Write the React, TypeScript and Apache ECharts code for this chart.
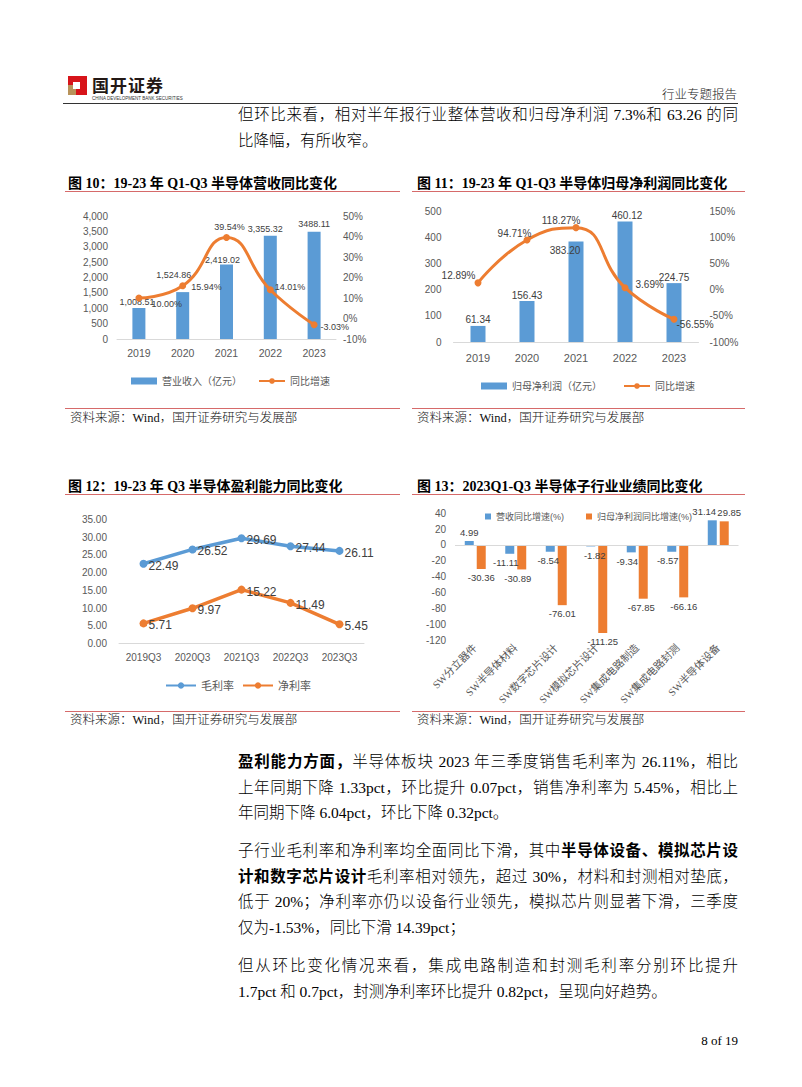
import React, { useEffect, useRef } from "react";
import * as echarts from "echarts";

// ---------- data ----------
const years = ["2019", "2020", "2021", "2022", "2023"];
const revenue = [1008.51, 1524.86, 2419.02, 3355.32, 3488.11];
const revenueLabels = ["1,008.51", "1,524.86", "2,419.02", "3,355.32", "3488.11"];
const revenueYoy = [10.0, 15.94, 39.54, 14.01, -3.03];
const profit = [61.34, 156.43, 383.2, 460.12, 224.75];
const profitYoy = [12.89, 94.71, 118.27, 3.69, -56.55];
const quarters = ["2019Q3", "2020Q3", "2021Q3", "2022Q3", "2023Q3"];
const grossMargin = [22.49, 26.52, 29.69, 27.44, 26.11];
const netMargin = [5.71, 9.97, 15.22, 11.49, 5.45];
const subIndustries = [
  "SW分立器件",
  "SW半导体材料",
  "SW数字芯片设计",
  "SW模拟芯片设计",
  "SW集成电路制造",
  "SW集成电路封测",
  "SW半导体设备",
];
const subRevenueYoy = [4.99, -11.11, -8.54, -1.82, -9.34, -8.57, 31.14];
const subProfitYoy = [-30.36, -30.89, -76.01, -111.25, -67.85, -66.16, 29.85];

// ---------- label placement (styling) ----------
const revBarOff = [[-2, 2], [-9, -10], [-4, 3], [-5, 1], [0, 0]];
const revLineLbl = [
  { position: "right", offset: [4, 6] },
  { position: "right", offset: [0, 1] },
  { position: "top", offset: [3, 3] },
  { position: "right", offset: [-4, -3] },
  { position: "right", offset: [-2, 2] },
];
const profBarOff = [[0, 2], [0, 2], [-11, 17], [2, 2], [0, 2]];
const profLineLbl = [
  { position: "left", offset: [6, -7] },
  { position: "left", offset: [13, -6] },
  { position: "left", offset: [13, -7] },
  { position: "right", offset: [2, -3] },
  { position: "right", offset: [-6, 5] },
];
const subRevOff = [[0, 0], [-4, 0], [-2, 0], [4, 0], [-4, 0], [-4, 0], [-8, 0]];
const subProfOff = [[0, 0], [-4, 0], [0, 0], [0, 0], [-2, 0], [0, 0], [5, 0]];

const BLUE = "#5B9BD5";
const ORANGE = "#ED7D31";
const AX = "#595959";
const LBL = "#404040";
const FONT = "'Liberation Sans', 'Noto Sans CJK SC', sans-serif";
const SERIF = "'Liberation Serif', 'Noto Sans CJK SC', serif";
const RED = "#D66A6A";

const catAxis = (gridIndex: number, data: string[], extra: any = {}) => ({
  type: "category",
  gridIndex,
  data,
  axisLine: { show: true, lineStyle: { color: "#D9D9D9", width: 1 } },
  axisTick: { show: false },
  ...extra,
});

const valAxis = (gridIndex: number, extra: any) => ({
  type: "value",
  gridIndex,
  splitLine: { show: false },
  axisLine: { show: false },
  axisTick: { show: false },
  ...extra,
});

const capText = (x: number, y: number, text: string) => ({
  type: "text",
  x,
  y,
  style: { text, font: `bold 14px ${SERIF}`, fill: "#000", verticalAlign: "middle" },
});
const srcText = (x: number, y: number) => ({
  type: "text",
  x,
  y,
  style: {
    text: "资料来源：Wind，国开证券研究与发展部",
    font: `300 12.5px ${SERIF}`,
    fill: "#111",
    verticalAlign: "middle",
  },
});
const hline = (x1: number, x2: number, y: number) => ({
  type: "line",
  shape: { x1, y1: y, x2, y2: y },
  style: { stroke: RED, lineWidth: 1 },
});

const option: any = {
  animation: false,
  textStyle: { fontFamily: FONT },
  graphic: [
    capText(68, 183, "图 10：19-23 年 Q1-Q3 半导体营收同比变化"),
    capText(417, 183, "图 11：19-23 年 Q1-Q3 半导体归母净利润同比变化"),
    capText(68, 486, "图 12：19-23 年 Q3 半导体盈利能力同比变化"),
    capText(417, 486, "图 13：2023Q1-Q3 半导体子行业业绩同比变化"),
    hline(65, 400, 191.5),
    hline(412, 745, 191.5),
    hline(65, 400, 494.5),
    hline(412, 745, 494.5),
    hline(65, 400, 408.5),
    hline(412, 745, 408.5),
    hline(65, 400, 711.5),
    hline(412, 745, 711.5),
    srcText(70, 418),
    srcText(417, 418),
    srcText(70, 720),
    srcText(417, 720),
  ],
  grid: [
    { left: 117, top: 216, width: 219, height: 123 },
    { left: 453.5, top: 211, width: 245, height: 131 },
    { left: 119, top: 519.3, width: 245, height: 124.4 },
    { left: 455, top: 513.3, width: 283.5, height: 126.7 },
  ],
  xAxis: [
    catAxis(0, years, { axisLabel: { color: AX, fontSize: 10.5, margin: 9 } }),
    catAxis(1, years, { axisLabel: { color: AX, fontSize: 11, margin: 10 } }),
    catAxis(2, quarters, { axisLabel: { color: AX, fontSize: 10, margin: 9 } }),
    catAxis(3, subIndustries, {
      axisLine: { show: false },
      axisLabel: { color: AX, fontSize: 10.5, margin: 6, rotate: 45, interval: 0, fontFamily: SERIF },
    }),
  ],
  yAxis: [
    valAxis(0, {
      min: 0,
      max: 4000,
      interval: 500,
      axisLabel: { color: AX, fontSize: 10, margin: 9, formatter: (v: number) => v.toLocaleString("en-US") },
    }),
    valAxis(0, {
      position: "right",
      min: -10,
      max: 50,
      interval: 10,
      axisLabel: { color: AX, fontSize: 10, margin: 7, formatter: (v: number) => v + "%" },
    }),
    valAxis(1, {
      min: 0,
      max: 500,
      interval: 100,
      axisLabel: { color: AX, fontSize: 10, margin: 12 },
    }),
    valAxis(1, {
      position: "right",
      min: -100,
      max: 150,
      interval: 50,
      axisLabel: { color: AX, fontSize: 10, margin: 11, formatter: (v: number) => v + "%" },
    }),
    valAxis(2, {
      min: 0,
      max: 35,
      interval: 5,
      axisLabel: { color: AX, fontSize: 10, margin: 12, formatter: (v: number) => v.toFixed(2) },
    }),
    valAxis(3, {
      min: -120,
      max: 40,
      interval: 20,
      axisLabel: { color: AX, fontSize: 10, margin: 9 },
    }),
  ],
  legend: [
    {
      left: 126,
      top: 371,
      itemWidth: 26,
      itemHeight: 7,
      itemGap: 16,
      textStyle: { fontSize: 10, color: AX },
      data: [{ name: "营业收入（亿元）", icon: "rect" }, { name: "同比增速" }],
    },
    {
      left: 476,
      top: 376,
      itemWidth: 26,
      itemHeight: 7,
      itemGap: 21,
      textStyle: { fontSize: 10, color: AX },
      data: [{ name: "归母净利润（亿元）", icon: "rect" }, { name: "同比增速" }],
    },
    {
      left: 160,
      top: 675,
      itemWidth: 30,
      itemHeight: 8,
      itemGap: 8,
      textStyle: { fontSize: 11, color: AX },
      data: [{ name: "毛利率" }, { name: "净利率" }],
    },
    {
      left: 480,
      top: 507,
      itemWidth: 6,
      itemHeight: 6,
      itemGap: 22,
      icon: "rect",
      textStyle: { fontSize: 9, color: AX },
      data: ["营收同比增速(%)", "归母净利润同比增速(%)"],
    },
  ],
  series: [
    {
      type: "bar",
      name: "营业收入（亿元）",
      xAxisIndex: 0,
      yAxisIndex: 0,
      barWidth: 13,
      itemStyle: { color: BLUE },
      label: {
        show: true,
        position: "top",
        distance: 3,
        fontSize: 9,
        color: LBL,
        formatter: (p: any) => revenueLabels[p.dataIndex],
      },
      data: revenue.map((v, i) => ({ value: v, label: { offset: revBarOff[i] } })),
    },
    {
      type: "line",
      name: "同比增速",
      xAxisIndex: 0,
      yAxisIndex: 1,
      smooth: true,
      symbol: "circle",
      symbolSize: 7,
      lineStyle: { width: 3, color: ORANGE },
      itemStyle: { color: ORANGE },
      label: {
        show: true,
        fontSize: 9,
        color: LBL,
        formatter: (p: any) => Number(p.value).toFixed(2) + "%",
      },
      data: revenueYoy.map((v, i) => ({ value: v, label: revLineLbl[i] })),
    },
    {
      type: "bar",
      name: "归母净利润（亿元）",
      xAxisIndex: 1,
      yAxisIndex: 2,
      barWidth: 15,
      itemStyle: { color: BLUE },
      label: {
        show: true,
        position: "top",
        distance: 3,
        fontSize: 10,
        color: LBL,
        formatter: (p: any) => Number(p.value).toFixed(2),
      },
      data: profit.map((v, i) => ({ value: v, label: { offset: profBarOff[i] } })),
    },
    {
      type: "line",
      name: "同比增速",
      xAxisIndex: 1,
      yAxisIndex: 3,
      smooth: true,
      symbol: "circle",
      symbolSize: 7,
      lineStyle: { width: 3, color: ORANGE },
      itemStyle: { color: ORANGE },
      label: {
        show: true,
        fontSize: 10,
        color: LBL,
        formatter: (p: any) => Number(p.value).toFixed(2) + "%",
      },
      data: profitYoy.map((v, i) => ({ value: v, label: profLineLbl[i] })),
    },
    {
      type: "line",
      name: "毛利率",
      xAxisIndex: 2,
      yAxisIndex: 4,
      symbol: "circle",
      symbolSize: 8,
      lineStyle: { width: 3.5, color: BLUE },
      itemStyle: { color: BLUE },
      label: {
        show: true,
        position: "right",
        distance: 1,
        offset: [0, 2],
        fontSize: 12,
        color: LBL,
        formatter: (p: any) => Number(p.value).toFixed(2),
      },
      data: grossMargin,
    },
    {
      type: "line",
      name: "净利率",
      xAxisIndex: 2,
      yAxisIndex: 4,
      symbol: "circle",
      symbolSize: 8,
      lineStyle: { width: 3.5, color: ORANGE },
      itemStyle: { color: ORANGE },
      label: {
        show: true,
        position: "right",
        distance: 1,
        offset: [0, 2],
        fontSize: 12,
        color: LBL,
        formatter: (p: any) => Number(p.value).toFixed(2),
      },
      data: netMargin,
    },
    {
      type: "bar",
      name: "营收同比增速(%)",
      xAxisIndex: 3,
      yAxisIndex: 5,
      barWidth: 9,
      barGap: "33%",
      itemStyle: { color: BLUE },
      label: {
        show: true,
        distance: 4,
        fontSize: 9.5,
        color: LBL,
        formatter: (p: any) => Number(p.value).toFixed(2),
      },
      markLine: {
        silent: true,
        symbol: "none",
        label: { show: false },
        lineStyle: { color: "#D9D9D9", type: "solid", width: 1 },
        data: [{ yAxis: 0 }],
      },
      data: subRevenueYoy.map((v, i) => ({
        value: v,
        label: { position: v < 0 ? "bottom" : "top", offset: subRevOff[i] },
      })),
    },
    {
      type: "bar",
      name: "归母净利润同比增速(%)",
      xAxisIndex: 3,
      yAxisIndex: 5,
      barWidth: 9,
      barGap: "33%",
      itemStyle: { color: ORANGE },
      label: {
        show: true,
        distance: 4,
        fontSize: 9.5,
        color: LBL,
        formatter: (p: any) => Number(p.value).toFixed(2),
      },
      data: subProfitYoy.map((v, i) => ({
        value: v,
        label: { position: v < 0 ? "bottom" : "top", offset: subProfOff[i] },
      })),
    },
  ],
};

type Seg = { t: string; b?: boolean };
type Line = { y: number; segs: Seg[]; last?: boolean };

const bodyLines: Line[] = [
  { y: 115, segs: [{ t: "但环比来看，相对半年报行业整体营收和归母净利润 7.3%和 63.26 的同" }] },
  { y: 141, segs: [{ t: "比降幅，有所收窄。" }], last: true },
  { y: 762, segs: [{ t: "盈利能力方面，", b: true }, { t: "半导体板块 2023 年三季度销售毛利率为 26.11%，相比" }] },
  { y: 788, segs: [{ t: "上年同期下降 1.33pct，环比提升 0.07pct，销售净利率为 5.45%，相比上" }] },
  { y: 813, segs: [{ t: "年同期下降 6.04pct，环比下降 0.32pct。" }], last: true },
  { y: 851, segs: [{ t: "子行业毛利率和净利率均全面同比下滑，其中" }, { t: "半导体设备、模拟芯片设", b: true }] },
  { y: 877, segs: [{ t: "计和数字芯片设计", b: true }, { t: "毛利率相对领先，超过 30%，材料和封测相对垫底，" }] },
  { y: 902, segs: [{ t: "低于 20%；净利率亦仍以设备行业领先，模拟芯片则显著下滑，三季度" }] },
  { y: 928, segs: [{ t: "仅为-1.53%，同比下滑 14.39pct；" }], last: true },
  { y: 966, segs: [{ t: "但从环比变化情况来看，集成电路制造和封测毛利率分别环比提升" }] },
  { y: 992, segs: [{ t: "1.7pct 和 0.7pct，封测净利率环比提升 0.82pct，呈现向好趋势。" }], last: true },
];

export default function App() {
  const ref = useRef<HTMLDivElement>(null);
  useEffect(() => {
    const chart = echarts.init(ref.current as HTMLDivElement, null, { renderer: "svg" });
    chart.setOption(option);
    return () => chart.dispose();
  }, []);

  const bodyFont = '"Liberation Serif", "Noto Sans CJK SC", serif';

  return (
    <div
      style={{
        position: "absolute",
        left: 0,
        top: 0,
        width: 802,
        height: 1087,
        overflow: "hidden",
        background: "#fff",
        fontFamily: bodyFont,
        color: "#000",
      }}
    >
      <div ref={ref} style={{ position: "absolute", left: 0, top: 0, width: 802, height: 1087 }} />

      {/* logo */}
      <div style={{ position: "absolute", left: 68, top: 76, width: 19, height: 19, background: "#D7141A" }}>
        <div style={{ position: "absolute", left: 0, top: 9, width: 8, height: 10, background: "#B8935A" }} />
        <div style={{ position: "absolute", left: 5, top: 6, width: 7, height: 7, background: "#fff" }} />
      </div>
      <div
        style={{
          position: "absolute",
          left: 92,
          top: 75,
          fontSize: 17,
          lineHeight: "19px",
          fontWeight: 700,
          fontFamily: '"Noto Sans CJK SC", sans-serif',
          color: "#231815",
          letterSpacing: 1,
        }}
      >
        国开证券
      </div>
      <div
        style={{
          position: "absolute",
          left: 92,
          top: 96,
          fontSize: 4.5,
          lineHeight: "5px",
          fontFamily: "'Liberation Sans', sans-serif",
          color: "#333",
          whiteSpace: "nowrap",
        }}
      >
        CHINA DEVELOPMENT BANK SECURITIES
      </div>
      <div
        style={{
          position: "absolute",
          left: 600,
          top: 86,
          width: 137,
          textAlign: "right",
          fontSize: 12.5,
          lineHeight: "18px",
          fontWeight: 300,
          color: "#222",
        }}
      >
        行业专题报告
      </div>
      <div style={{ position: "absolute", left: 63, top: 103, width: 675, height: 1, background: "#333" }} />

      {bodyLines.map((ln, i) => (
        <div
          key={i}
          style={{
            position: "absolute",
            left: 238,
            top: ln.y - 11,
            width: 500,
            height: 22,
            lineHeight: "22px",
            fontSize: 15.5,
            fontWeight: 300,
            textAlign: "justify",
            textAlignLast: ln.last ? "left" : "justify",
          }}
        >
          {ln.segs.map((s, j) => (
            <span key={j} style={s.b ? { fontWeight: 700 } : undefined}>
              {s.t}
            </span>
          ))}
        </div>
      ))}

      <div
        style={{
          position: "absolute",
          left: 638,
          top: 1032,
          width: 100,
          textAlign: "right",
          fontSize: 13,
          lineHeight: "18px",
        }}
      >
        8 of 19
      </div>
    </div>
  );
}
